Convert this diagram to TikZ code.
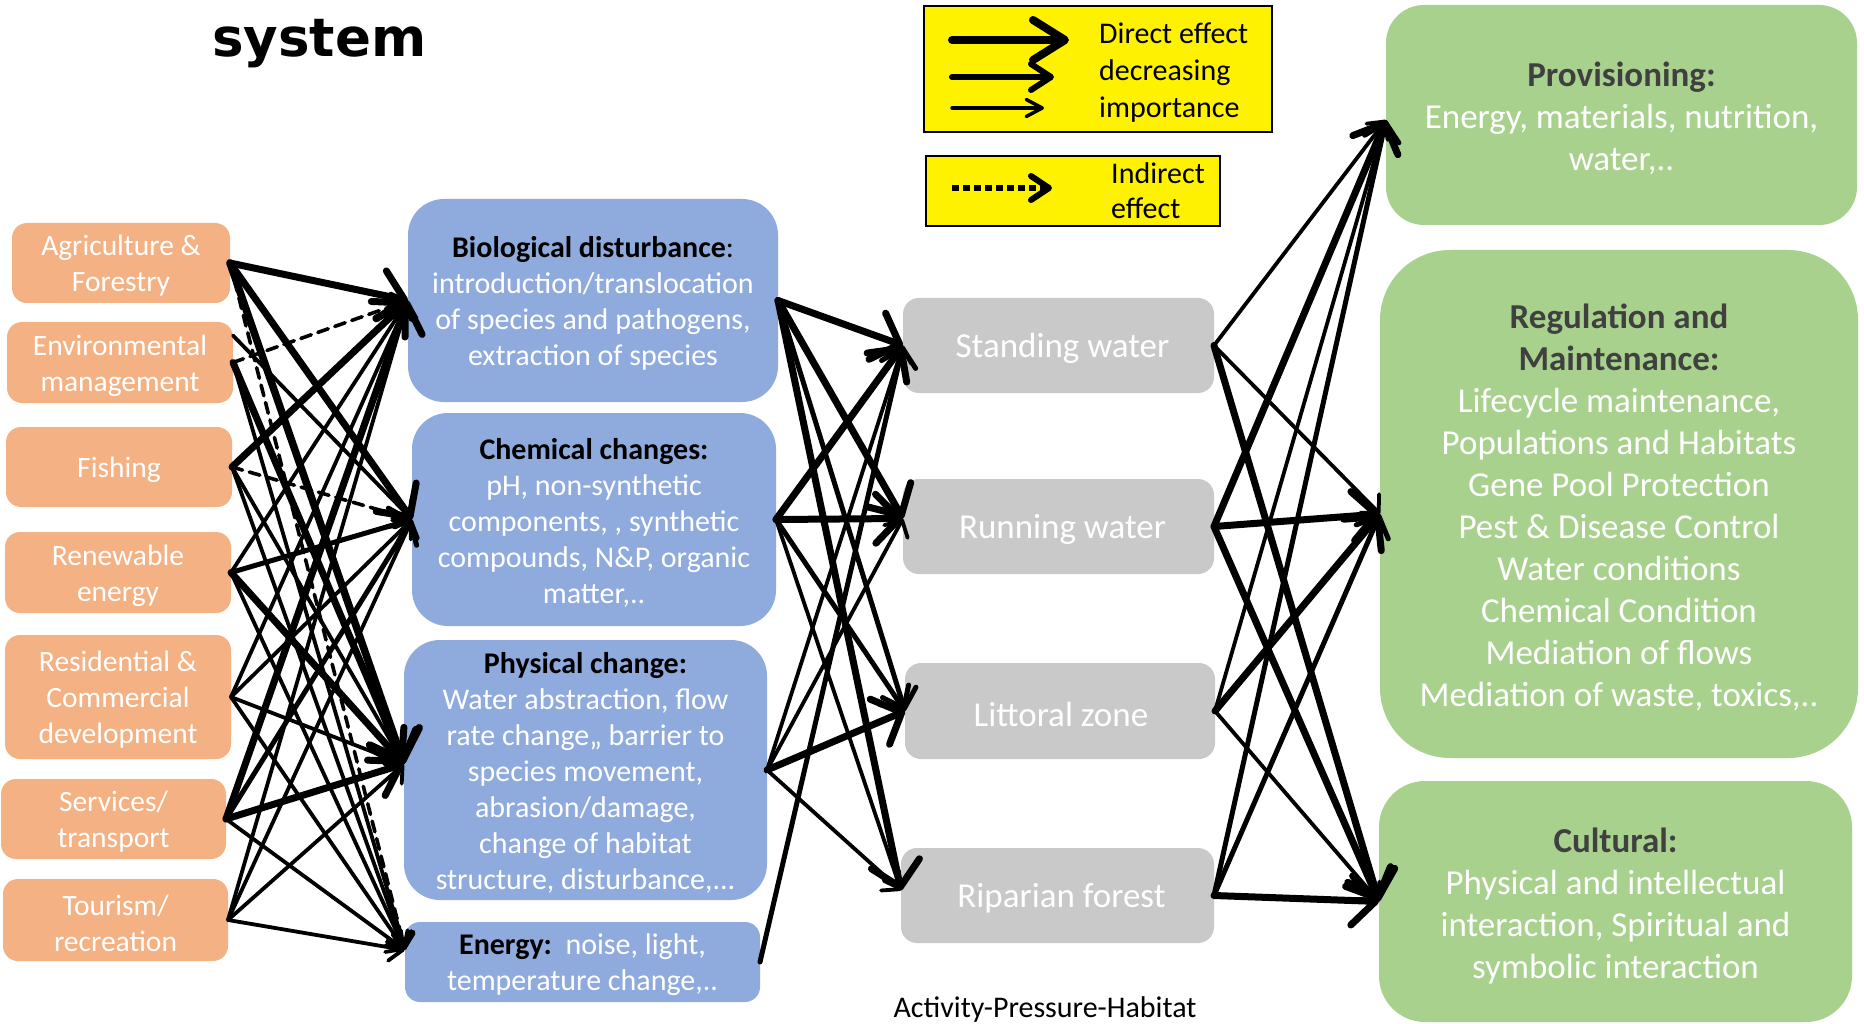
\documentclass[tikz,border=0pt]{standalone}
\usepackage{fontspec}
\setmainfont{Carlito}
\newfontfamily\titlefont{DejaVu Sans}
\usetikzlibrary{arrows.meta}
\definecolor{orangebox}{HTML}{F4B183}
\definecolor{bluebox}{HTML}{8FAADC}
\definecolor{greenbox}{HTML}{A9D18E}
\definecolor{graybox}{HTML}{C9C9C9}
\definecolor{darktitle}{HTML}{404040}
% #1 name, #2 box style, #3 text style, #4..#7 x1 y1 x2 y2, #8 text
\newcommand\mkbox[8]{%
  \node[#2, minimum width={(#6)-(#4)}, minimum height={(#7)-(#5)}] (#1) at ({((#4)+(#6))/2},{((#5)+(#7))/2}) {};
  \node[#3] (#1-t) at ([yshift=-3pt]#1.center) {#8};}
\begin{document}
\begin{tikzpicture}[x=1pt,y=-1pt,
  shp/.style={rectangle, inner sep=0pt, outer sep=0pt},
  txt/.style={inner sep=0pt, align=center, text=white},
  actbox/.style={shp, fill=orangebox, rounded corners=15pt},
  acttxt/.style={txt, font=\fontsize{29.5}{36}\selectfont},
  presbox/.style={shp, fill=bluebox, rounded corners=36pt},
  prestxt/.style={txt, font=\fontsize{30}{36}\selectfont},
  habbox/.style={shp, fill=graybox, rounded corners=16pt},
  ecobox/.style={shp, fill=greenbox},
  bigtxt/.style={txt, font=\fontsize{35}{42}\selectfont},
  legbox/.style={rectangle, draw=black, line width=2.5pt, fill=yellow, inner sep=0pt},
  con/.style={line cap=round, line join=round, -{Straight Barb[length=0pt 3.4, width=0pt 7, round]}},
  thk/.style={con, line width=7pt},
  med/.style={con, line width=5pt},
  thn/.style={con, line width=3.8pt},
  ind/.style={con, line width=3.6pt, dash pattern=on 11pt off 7pt},
]
\useasboundingbox (0,0) rectangle (1864,1024);
\fill[white] (0,0) rectangle (1864,1024);

% title
\node[anchor=base west, inner sep=0pt, font=\titlefont\bfseries\fontsize{53}{60}\selectfont] (title) at (212,57) {system};

% legend
\mkbox{leg1}{legbox}{txt}{924}{6}{1272}{132}{}
\mkbox{leg2}{legbox}{txt}{926}{156}{1220}{226}{}
\node[anchor=west, align=left, inner sep=0pt, font=\fontsize{30}{37}\selectfont] (legtxt1) at (1099,72.5) {Direct effect\\decreasing\\importance};
\node[anchor=west, align=left, inner sep=0pt, font=\fontsize{30}{35}\selectfont] (legtxt2) at (1111,190.5) {Indirect\\effect};
\coordinate (l1a) at (952,40);  \coordinate (l1b) at (1069,40);
\coordinate (l2a) at (952,77);  \coordinate (l2b) at (1054,77);
\coordinate (l3a) at (952,108); \coordinate (l3b) at (1044,108);
\coordinate (l4a) at (952,188); \coordinate (l4b) at (1052,188);
\draw[line width=8pt, line cap=round, -{Straight Barb[length=32pt, width=40pt, round]}] (l1a) -- (l1b);
\draw[line width=6pt, line cap=round, -{Straight Barb[length=20pt, width=26pt, round]}] (l2a) -- (l2b);
\draw[line width=3.5pt, line cap=round, -{Straight Barb[length=16pt, width=17pt, round]}] (l3a) -- (l3b);
\draw[line width=6pt, line cap=butt, dash pattern=on 7pt off 4pt, -{Straight Barb[length=18pt, width=24pt, round]}] (l4a) -- (l4b);

% activities
\mkbox{agri}{actbox}{acttxt}{12}{223}{230}{303}{Agriculture \&\\Forestry}
\mkbox{env}{actbox}{acttxt}{7}{322}{233}{403}{Environmental\\management}
\mkbox{fish}{actbox}{acttxt}{6}{427}{232}{507}{Fishing}
\mkbox{renew}{actbox}{acttxt}{5}{532}{231}{613}{Renewable\\energy}
\mkbox{resid}{actbox}{acttxt}{5}{635}{231}{759}{Residential \&\\Commercial\\development}
\mkbox{servt}{actbox}{acttxt}{1}{779}{226}{859}{Services/\\transport}
\mkbox{tour}{actbox}{acttxt}{3}{879}{228}{961}{Tourism/\\recreation}

% pressures
\mkbox{bio}{presbox}{prestxt}{408}{199}{778}{402}{\textcolor{black}{\bfseries Biological disturbance}\textcolor{black}{:}\\introduction/translocation\\of species and pathogens,\\extraction of species}
\mkbox{chem}{presbox}{prestxt}{412}{413}{776}{626}{\textcolor{black}{\bfseries Chemical changes:}\\pH, non-synthetic\\components, , synthetic\\compounds, N\&P, organic\\matter,..}
\mkbox{phys}{presbox}{prestxt}{404}{640}{767}{900}{\textcolor{black}{\bfseries Physical change:}\\Water abstraction, flow\\rate change,, barrier to\\species movement,\\abrasion/damage,\\change of habitat\\structure, disturbance,...}
\mkbox{energy}{presbox, rounded corners=15pt}{prestxt}{405}{922}{760}{1002}{\textcolor{black}{\bfseries Energy:}\ \ noise, light,\\temperature change,..}

% habitats
\mkbox{stand}{habbox}{bigtxt, xshift=4pt}{903}{298}{1214}{393}{Standing water}
\mkbox{run}{habbox}{bigtxt, xshift=4pt}{903}{479}{1214}{574}{Running water}
\mkbox{litt}{habbox}{bigtxt, xshift=1pt}{905}{663}{1215}{759}{Littoral zone}
\mkbox{ripa}{habbox}{bigtxt, xshift=4pt}{901}{848}{1214}{943}{Riparian forest}

% ecosystem services
\mkbox{prov}{ecobox, rounded corners=38pt}{bigtxt}{1386}{5}{1857}{225}{\textcolor{darktitle}{\bfseries Provisioning:}\\Energy, materials, nutrition,\\water,..}
\mkbox{reg}{ecobox, rounded corners=70pt}{bigtxt}{1380}{250}{1858}{758}{\textcolor{darktitle}{\bfseries Regulation and}\\\textcolor{darktitle}{\bfseries Maintenance:}\\Lifecycle maintenance,\\Populations and Habitats\\Gene Pool Protection\\Pest \& Disease Control\\Water conditions\\Chemical Condition\\Mediation of flows\\Mediation of waste, toxics,..}
\mkbox{cult}{ecobox, rounded corners=46pt}{bigtxt, yshift=-1.5pt}{1379}{781}{1852}{1022}{\textcolor{darktitle}{\bfseries Cultural:}\\Physical and intellectual\\interaction, Spiritual and\\symbolic interaction}

\node[inner sep=0pt, font=\fontsize{30}{36}\selectfont] (caption) at (1045,1009.5) {Activity-Pressure-Habitat};

% connection points
\coordinate (envA) at ([yshift=27pt]env.east);
\coordinate (physin) at ([yshift=6pt]phys.west);
\coordinate (energyin) at ([yshift=12pt]energy.west);
\coordinate (runin) at ([yshift=8pt]run.west);
\coordinate (ripain) at ([yshift=5pt]ripa.west);
\coordinate (provin) at ([yshift=-5pt]prov.west);
\coordinate (regin) at ([yshift=-10pt]reg.west);

% activity -> pressure
\draw[thk] (agri.east) -- (bio.west);
\draw[thk] (agri.east) -- (chem.west);
\draw[thk, line width=7.5pt] (agri.east) -- (physin);
\draw[ind] (agri.east) -- (energyin);
\draw[thn] (envA) -- (chem.west);
\draw[ind] (env.east) -- (bio.west);
\draw[thk] (env.east) -- (physin);
\draw[thn] (env.east) -- (energyin);
\draw[thk] (fish.east) -- (bio.west);
\draw[ind] (fish.east) -- (chem.west);
\draw[thn] (fish.east) -- (physin);
\draw[thn] (fish.east) -- (energyin);
\draw[thn] (renew.east) -- (bio.west);
\draw[med] (renew.east) -- (chem.west);
\draw[thk] (renew.east) -- (physin);
\draw[thn] (renew.east) -- (energyin);
\draw[thn] (resid.east) -- (bio.west);
\draw[thn] (resid.east) -- (chem.west);
\draw[thn] (resid.east) -- (physin);
\draw[thn] (resid.east) -- (energyin);
\draw[thk] (servt.east) -- (bio.west);
\draw[med] (servt.east) -- (chem.west);
\draw[thk] (servt.east) -- (physin);
\draw[thn] (servt.east) -- (energyin);
\draw[thn] (tour.east) -- (bio.west);
\draw[thn] (tour.east) -- (chem.west);
\draw[thn] (tour.east) -- (physin);
\draw[thn] (tour.east) -- (energyin);

% pressure -> habitat
\draw[thk] (bio.east) -- (stand.west);
\draw[thk] (bio.east) -- (runin);
\draw[med] (bio.east) -- (litt.west);
\draw[thk] (bio.east) -- (ripain);
\draw[thk] (chem.east) -- (stand.west);
\draw[thk] (chem.east) -- (runin);
\draw[med] (chem.east) -- (litt.west);
\draw[thn] (chem.east) -- (ripain);
\draw[thn] (phys.east) -- (stand.west);
\draw[thn] (phys.east) -- (runin);
\draw[thk] (phys.east) -- (litt.west);
\draw[thn] (phys.east) -- (ripain);
\draw[med] (energy.east) -- (stand.west);

% habitat -> services
\draw[thn] (stand.east) -- (provin);
\draw[thn] (stand.east) -- (regin);
\draw[thk] (stand.east) -- (cult.west);
\draw[thk] (run.east) -- (provin);
\draw[thk] (run.east) -- (regin);
\draw[thk] (run.east) -- (cult.west);
\draw[thn] (litt.east) -- (provin);
\draw[thk] (litt.east) -- (regin);
\draw[thn] (litt.east) -- (cult.west);
\draw[med] (ripa.east) -- (provin);
\draw[med] (ripa.east) -- (regin);
\draw[thk] (ripa.east) -- (cult.west);
\end{tikzpicture}
\end{document}
